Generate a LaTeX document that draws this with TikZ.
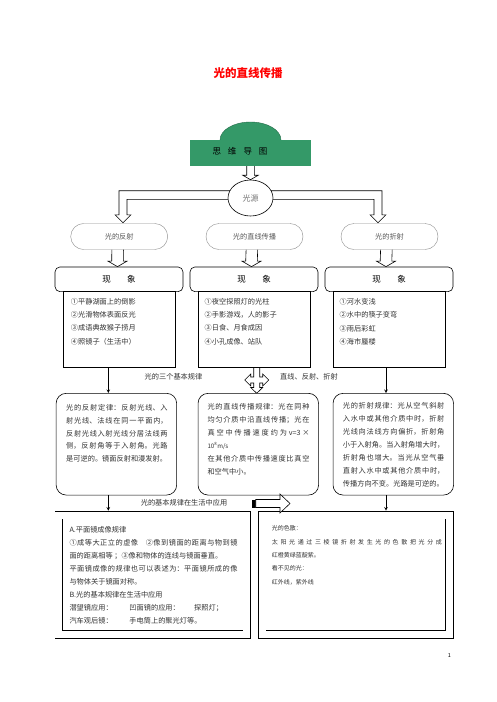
\documentclass[tikz,border=0pt]{standalone}
\usepackage{fontspec}
\setmainfont{Noto Sans CJK SC}
\usetikzlibrary{positioning,calc,backgrounds,shapes.geometric}
\XeTeXlinebreaklocale "zh"
\XeTeXlinebreakskip=0pt plus 10pt
\definecolor{mapgreen}{RGB}{52,153,104}

\tikzset{
  hollow/.style={draw, fill=white, line width=0.6pt, line join=miter},
  stadium/.style={draw=black!45, fill=white, rounded corners=13pt, minimum width=97pt, minimum height=26pt, text=black!65, font=\fontsize{7.2pt}{9pt}\selectfont},
  phenom/.style={draw, fill=white, rounded corners=5pt, minimum width=128pt, minimum height=24.7pt, line width=0.6pt, font=\fontsize{8.5pt}{10pt}\selectfont},
  listbox/.style={draw, fill=white, minimum width=112pt, minimum height=75.8pt, line width=0.6pt},
  rulebox/.style={draw, fill=white, rounded corners=10pt, minimum width=120.5pt, minimum height=101.7pt, line width=0.6pt},
  appbox/.style={draw, double, double distance=7pt, line width=0.8pt, minimum width=188pt, minimum height=119.3pt, outer sep=0pt},
  body/.style={anchor=north west, inner sep=0pt, align=left, text=black!80, font=\fontsize{7.2pt}{13.1pt}\selectfont},
  just/.style={body, align=justify, text width=#1},
  tag/.style={inner sep=0pt, text=black!80, font=\fontsize{7.2pt}{9pt}\selectfont},
}

\begin{document}
\begin{tikzpicture}[x=1pt, y=-1pt, >=stealth]
\useasboundingbox (0,0) rectangle (496,702);

% title and header
\node[font=\fontsize{11.5pt}{12pt}\selectfont\bfseries, text=red, inner sep=0pt] (title) at (248,73) {光的直线传播};
\node[ellipse, fill=mapgreen, draw=mapgreen!70!black, line width=0.4pt, minimum width=61pt, minimum height=36pt, inner sep=0pt] (dome) at (250.5,140) {};
\node[fill=mapgreen, minimum width=121pt, minimum height=26pt, inner sep=0pt] (head) at (250.5,153) {};
\node[font=\fontsize{8.5pt}{10pt}\selectfont, inner sep=0pt] (headtxt) at (240,151) {思\hspace{7pt}维\hspace{7pt}导\hspace{7pt}图};

\node[ellipse, draw, fill=white, line width=0.6pt, minimum width=45pt, minimum height=36pt, inner sep=0pt, text=black!55, font=\fontsize{8pt}{9pt}\selectfont] (src) at (250.5,198) {光源};

% three branches
\foreach \n/\x/\t in {sL/119.2/光的反射, sM/254.5/光的直线传播, sR/389.5/光的折射}
  \node[stadium] (\n) at (\x,236.5) {\t};

\foreach \n/\x in {pL/119, pM/254, pR/389}
  \node[phenom] (\n) at (\x,279.3) {现\hspace{16.5pt}象};

\foreach \n/\x in {lL/119.5, lM/254, lR/389.2}
  \node[listbox] (\n) at (\x,329.6) {};

\node[body] (tL) at (70.7,298.5) {①平静湖面上的倒影\\②光滑物体表面反光\\③成语典故猴子捞月\\④照镜子（生活中）};
\node[body] (tM) at (204.5,298.5) {①夜空探照灯的光柱\\②手影游戏，人的影子\\③日食、月食成因\\④小孔成像、站队};
\node[body] (tR) at (339.5,298.5) {①河水变浅\\②水中的筷子变弯\\③雨后彩虹\\④海市蜃楼};

% laws
\foreach \n/\x in {rL/116.4, rM/258.3, rR/393.3}
  \node[rulebox] (\n) at (\x,444.2) {};

\node[just=101.5pt, font=\fontsize{7.2pt}{12.65pt}\selectfont] (gL) at (66,404.5) {光的反射定律：反射光线、入\linebreak 射光线、法线在同一平面内，\linebreak 反射光线入射光线分居法线两\linebreak 侧，反射角等于入射角。光路\linebreak 是可逆的。镜面反射和漫发射。};
\node[just=102pt] (gM) at (207.3,402.8) {光的直线传播规律：光在同种\linebreak 均匀介质中沿直线传播；光在\linebreak 真空中传播速度约为 v=3 ×\linebreak {\fontsize{6.2pt}{8pt}\selectfont 10\textsuperscript{8}m/s}\\在其他介质中传播速度比真空\linebreak 和空气中小。};
\node[just=101.5pt, font=\fontsize{7.2pt}{13pt}\selectfont] (gR) at (342.7,401.8) {光的折射规律：光从空气斜射\linebreak 入水中或其他介质中时，折射\linebreak 光线向法线方向偏折，折射角\linebreak 小于入射角。当入射角增大时，\linebreak 折射角也增大。当光从空气垂\linebreak 直射入水中或其他介质中时，\linebreak 传播方向不变。光路是可逆的。};

% applications
\node[appbox] (aL) at (152.9,574.7) {};
\node[appbox, minimum width=187.5pt] (aR) at (355.8,574.7) {};

\node[just=168pt, font=\fontsize{7.2pt}{13.06pt}\selectfont] (xL) at (69.3,526.1) {A.平面镜成像规律\\①成等大正立的虚像　②像到镜面的距离与物到镜\linebreak 面的距离相等 ；③像和物体的连线与镜面垂直。\\平面镜成像的规律也可以表述为：平面镜所成的像\linebreak 与物体关于镜面对称。\\B.光的基本规律在生活中应用\\\makebox[60pt][l]{潜望镜应用：}\makebox[64.7pt][l]{凹面镜的应用：}探照灯；\\\makebox[60pt][l]{汽车观后镜：}手电筒上的聚光灯等。};
\node[just=170pt, font=\fontsize{6pt}{13.35pt}\selectfont] (xR) at (271.7,525.6) {光的色散：\\太阳光通过三棱镜折射发生光的色散把光分成\linebreak 红橙黄绿蓝靛紫。\\看不见的光：\\红外线，紫外线};

\node[tag] (law3) at (173.5,376.7) {光的三个基本规律};
\node[tag] (kinds) at (309,376.7) {直线、反射、折射};
\node[tag] (apply) at (184,502.7) {光的基本规律在生活中应用};
\node[font=\fontsize{5.5pt}{6pt}\selectfont, inner sep=0pt] (pageno) at (449.3,655.7) {1};

% plain arrows
\coordinate (ax1) at (108.3,0);
\coordinate (ax2) at (386,0);
\foreach \a/\b/\c in {lL/rL/ax1, lR/rR/ax2}
  \draw[->, line width=0.6pt] (\a.south -| \c) -- (\b.north -| \c);
\foreach \a/\b/\c in {rL/aL/ax1, rR/aR/ax2}
  \draw[->, line width=0.6pt, shorten >=4.4pt] (\a.south -| \c) -- (\b.north -| \c);

% arrow with bar
\coordinate (bar) at (251.7,503.5);
\begin{scope}[shift={(bar)}]
  \fill (0,-4) rectangle (4,4);
  \draw[hollow] (4,-4) -- (28.3,-4) -- (28.3,-9.5) -- (38.3,0) -- (28.3,9.5) -- (28.3,4) -- (4,4) -- cycle;
\end{scope}

% hollow arrows behind the boxes
\begin{scope}[on background layer]
  \fill[white] (0,0) rectangle (496,702);
  \draw[hollow] ($(head.south)+(-3.8,-3)$) -- ($(src.north)+(-3.8,-4.5)$) -- ($(src.north)+(-7.8,-4.5)$) -- (src.north) -- ($(src.north)+(7.8,-4.5)$) -- ($(src.north)+(3.8,-4.5)$) -- ($(head.south)+(3.8,-3)$) -- cycle;
  \path (src) ++(0,-7.3) coordinate (up) ++(0,8.6) coordinate (lo);
  \draw[hollow] (up) -| ($(sL.north)+(-0.2,-8.5)$) -- ++(-4,0) -- ++(8,8) -- ++(8,-8) -- ++(-4,0) |- (lo) -- cycle;
  \draw[hollow] (up) -| ($(sR.north)+(-7.5,-8.5)$) -- ++(4,0) -- ++(-8,8) -- ++(-8,-8) -- ++(4,0) |- (lo) -- cycle;
  \foreach \a/\b/\dx in {sL/pL/-1.5, sM/pM/-2.5, sR/pR/-3}
    \draw[hollow] ($(\a.south)+(\dx-5.8,-3)$) -- ($(\b.north)+(\dx-5.8,-5.5)$) -- ++(-3.7,0) -- ($(\b.north)+(\dx,0)$) -- ($(\b.north)+(\dx+9.5,-5.5)$) -- ++(-3.7,0) -- ($(\a.south)+(\dx+5.8,-3)$) -- cycle;
  \coordinate (cr) at (256.7,380);
  \draw[hollow, shift={(cr)}] (-3,-15) -- (-3,-3) -- (-6,-3) -- (-6,-6) -- (-12,0) -- (-6,6) -- (-6,3) -- (-3,3) -- (-3,7.5) -- (-6,7.5) -- (0,13.3) -- (6,7.5) -- (3,7.5) -- (3,3) -- (6,3) -- (6,6) -- (12,0) -- (6,-6) -- (6,-3) -- (3,-3) -- (3,-15) -- cycle;
\end{scope}
\end{tikzpicture}
\end{document}
